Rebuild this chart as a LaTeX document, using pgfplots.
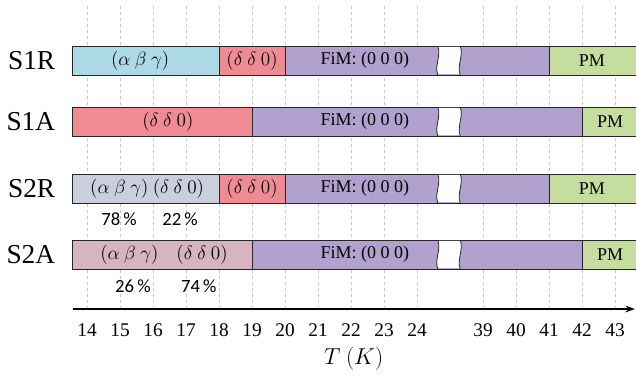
\documentclass[border=0pt]{standalone}
\usepackage{pgfplots}
\pgfplotsset{compat=1.18}
\usetikzlibrary{arrows.meta}
\usepackage{fontspec}
\setmainfont{Liberation Serif}
\newfontfamily\pctfont{Carlito}

\definecolor{abg}{RGB}{173,216,230}
\definecolor{ddz}{RGB}{240,139,148}
\definecolor{fim}{RGB}{177,161,206}
\definecolor{pm}{RGB}{197,222,160}
\definecolor{mixR}{RGB}{200,207,221}
\definecolor{mixA}{RGB}{214,181,192}

\begin{document}
\begin{tikzpicture}
\begin{axis}[
  name=ax,
  scale only axis, width=421.7pt, height=228pt,
  clip=false,
  % the temperature axis is broken between 24 K and 39 K
  x coord trafo/.code={\pgfmathparse{(#1>=39)*(#1-13)+(#1<39)*#1}},
  x coord inv trafo/.code={\pgfmathparse{(#1>=26)*(#1+13)+(#1<26)*#1}},
  xmin=13.56, xmax=43.6, ymin=71, ymax=375,
  axis x line=bottom, axis y line=left,
  x axis line style={-{Stealth[length=7pt,width=5pt]}, line width=1.1pt},
  y axis line style={draw=none},
  major tick length=0pt,
  xtick={14,15,16,17,18,19,20,21,22,23,24,39,40,41,42,43},
  xticklabels={14,15,16,17,18,19,20,21,22,23,24,39,40,41,42,43},
  xticklabel style={font=\fontsize{14.5}{16}\selectfont, yshift=-7.5pt},
  ytick={319.5,258.5,191.5,125.5},
  yticklabels={S1R,S1A,S2R,S2A},
  yticklabel style={font=\fontsize{20.5}{22}\selectfont, xshift=-9.5pt},
  xmajorgrids=true,
  grid style={gray!45, line width=0.4pt, dash pattern=on 2.5pt off 2pt},
  xlabel={$T\ (K)$},
  xlabel style={at={(axis description cs:0.5,0)}, anchor=center, yshift=-37pt,
                font=\fontsize{16.5}{18}\selectfont},
  seg/.style={draw=black!85, line width=0.6pt},
]
% S1R
\addplot[seg, fill=abg] coordinates {(13.56,305) (18,305) (18,334) (13.56,334)} --cycle;
\addplot[seg, fill=ddz] coordinates {(18,305) (20,305) (20,334) (18,334)} --cycle;
\addplot[seg, fill=fim] coordinates {(20,305) (41,305) (41,334) (20,334)} --cycle;
\addplot[seg, fill=pm]  coordinates {(41,305) (43.65,305) (43.65,334) (41,334)} --cycle;
% S1A
\addplot[seg, fill=ddz] coordinates {(13.56,244) (19,244) (19,273) (13.56,273)} --cycle;
\addplot[seg, fill=fim] coordinates {(19,244) (42,244) (42,273) (19,273)} --cycle;
\addplot[seg, fill=pm]  coordinates {(42,244) (43.65,244) (43.65,273) (42,273)} --cycle;
% S2R
\addplot[seg, fill=mixR] coordinates {(13.56,177) (18,177) (18,206) (13.56,206)} --cycle;
\addplot[seg, fill=ddz] coordinates {(18,177) (20,177) (20,206) (18,206)} --cycle;
\addplot[seg, fill=fim] coordinates {(20,177) (41,177) (41,206) (20,206)} --cycle;
\addplot[seg, fill=pm]  coordinates {(41,177) (43.65,177) (43.65,206) (41,206)} --cycle;
% S2A
\addplot[seg, fill=mixA] coordinates {(13.56,111) (19,111) (19,140) (13.56,140)} --cycle;
\addplot[seg, fill=fim] coordinates {(19,111) (42,111) (42,140) (19,140)} --cycle;
\addplot[seg, fill=pm]  coordinates {(42,111) (43.65,111) (43.65,140) (42,140)} --cycle;

% wavy break through every bar
\pgfplotsinvokeforeach{319.5,258.5,191.5,125.5}{
  \fill[white] (axis cs:24.63,{#1+13.7}) .. controls (axis cs:24.74,{#1+5}) and (axis cs:24.52,{#1-5}) .. (axis cs:24.63,{#1-13.7})
     -- (axis cs:25.31,{#1-13.7}) .. controls (axis cs:25.20,{#1-5}) and (axis cs:25.42,{#1+5}) .. (axis cs:25.31,{#1+13.7}) -- cycle;
  \draw[black!85, line width=0.6pt] (axis cs:24.63,{#1+14.5}) .. controls (axis cs:24.74,{#1+5}) and (axis cs:24.52,{#1-5}) .. (axis cs:24.63,{#1-14.5});
  \draw[black!85, line width=0.6pt] (axis cs:25.31,{#1+14.5}) .. controls (axis cs:25.42,{#1+5}) and (axis cs:25.20,{#1-5}) .. (axis cs:25.31,{#1-14.5});
}

% phase labels
\begin{scope}[every node/.style={font=\fontsize{13.5}{15}\selectfont, inner sep=0pt}]
\node at (axis cs:15.61,319.5) {$(\alpha\ \beta\ \gamma)$};
\node at (axis cs:19.0,319.5) {$(\delta\ \delta\ 0)$};
\node at (axis cs:22.42,319.5) {FiM: (0 0 0)};
\node at (axis cs:42.30,319.5) {PM};
\node at (axis cs:16.45,258.5) {$(\delta\ \delta\ 0)$};
\node at (axis cs:22.42,258.5) {FiM: (0 0 0)};
\node at (axis cs:42.85,258.5) {PM};
\node at (axis cs:15.82,191.5) {$(\alpha\ \beta\ \gamma)\ (\delta\ \delta\ 0)$};
\node at (axis cs:19.0,191.5) {$(\delta\ \delta\ 0)$};
\node at (axis cs:22.42,191.5) {FiM: (0 0 0)};
\node at (axis cs:42.30,191.5) {PM};
\node at (axis cs:16.33,125.5) {$(\alpha\ \beta\ \gamma)\quad(\delta\ \delta\ 0)$};
\node at (axis cs:22.42,125.5) {FiM: (0 0 0)};
\node at (axis cs:42.85,125.5) {PM};
\end{scope}

% phase fractions
\begin{scope}[every node/.style={font=\pctfont\fontsize{14}{16}\selectfont, inner sep=0pt}]
\node at (axis cs:14.97,161) {78\,\%};
\node at (axis cs:16.82,161) {22\,\%};
\node at (axis cs:15.39,94) {26\,\%};
\node at (axis cs:17.39,94) {74\,\%};
\end{scope}
\end{axis}
\pgfresetboundingbox
\path[use as bounding box] ([shift={(-54.4pt,-53.25pt)}]ax.south west) rectangle ++(477pt,285pt);
\end{tikzpicture}
\end{document}
